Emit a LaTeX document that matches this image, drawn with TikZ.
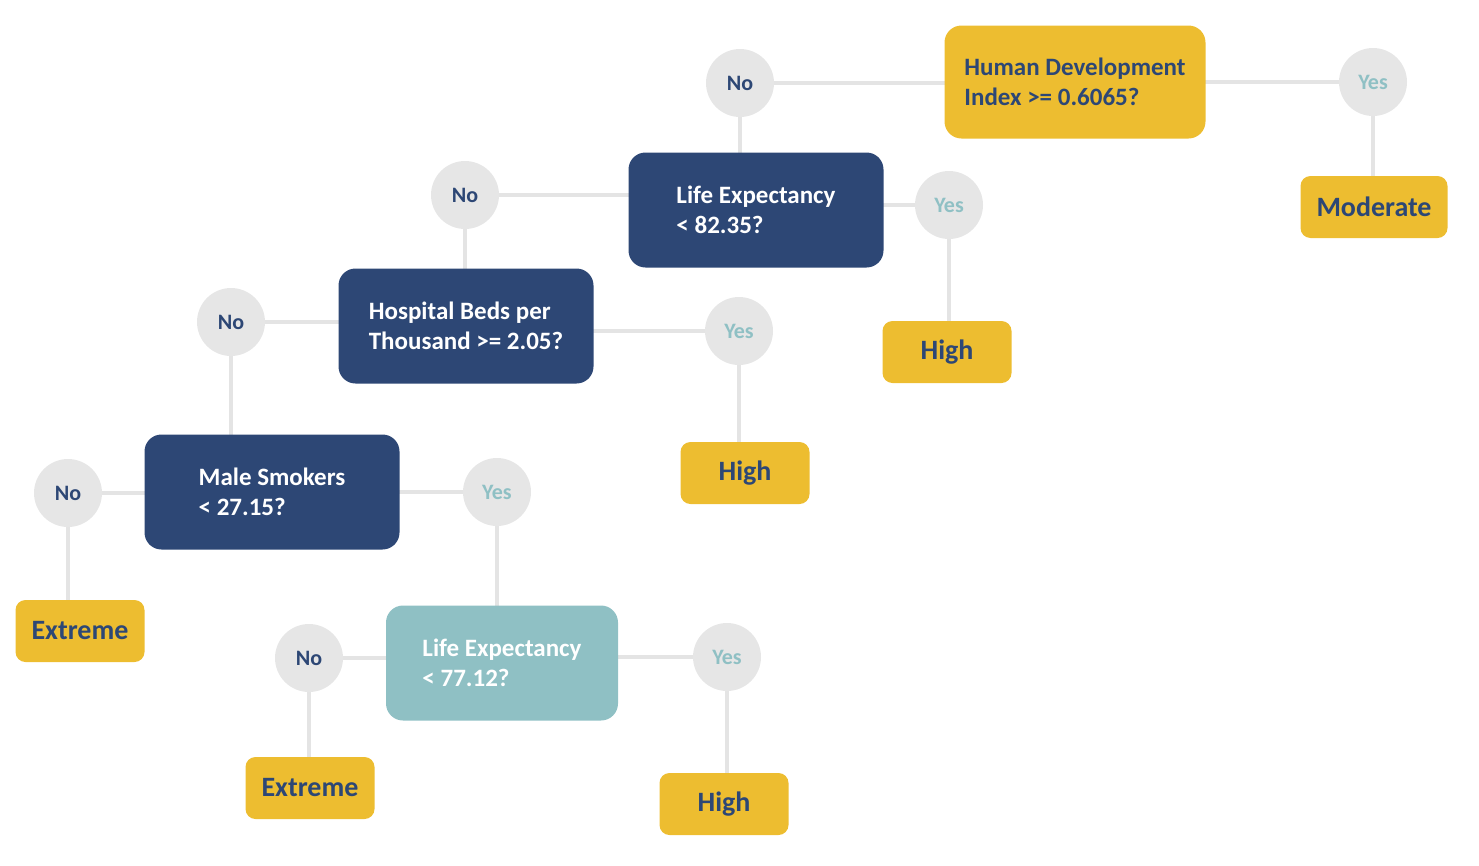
\documentclass[tikz,border=0pt]{standalone}
\usepackage{fontspec}
\setmainfont{Carlito}
\usetikzlibrary{backgrounds}
\definecolor{navy}{HTML}{2D4775}
\definecolor{gold}{HTML}{EDBD30}
\definecolor{teal}{HTML}{8FC0C4}
\definecolor{circ}{HTML}{E6E6E6}
\definecolor{link}{HTML}{E4E4E4}
\tikzset{
  x=1pt, y=1pt,
  qbox/.style={rounded corners=17pt, minimum height=115pt, align=left, inner sep=0pt,
    font=\fontsize{25}{30.5}\selectfont\bfseries},
  navybox/.style={qbox, fill=navy, text=white, minimum width=255pt},
  leaf/.style={fill=gold, text=navy, rounded corners=10pt, minimum width=129pt, minimum height=62pt,
    inner sep=0pt, font=\fontsize{28}{32}\selectfont\bfseries},
  ans/.style={circle, fill=circ, minimum size=68pt, inner sep=0pt,
    font=\fontsize{22}{26}\selectfont\bfseries},
  no/.style={ans, text=navy},
  yes/.style={ans, text=teal},
  conn/.style={draw=link, line width=3.5pt}
}
\begin{document}
\begin{tikzpicture}
\useasboundingbox (0,0) rectangle (1479,-865);
% decision boxes
\node[qbox, fill=gold, text=navy, minimum width=261pt, minimum height=113pt] (hdi) at (1075,-82) {Human Development\\Index >= 0.6065?};
\node[navybox] (le1) at (756,-210) {Life Expectancy\\< 82.35?};
\node[navybox] (hb) at (466,-326) {Hospital Beds per\\Thousand >= 2.05?};
\node[navybox] (ms) at (272,-492) {Male Smokers\\< 27.15?};
\node[qbox, fill=teal, text=white, minimum width=232pt] (le2) at (502,-663) {Life Expectancy\\< 77.12?};
% leaves
\node[leaf, minimum width=147pt] (mod) at (1374,-207) {Moderate};
\node[leaf] (high1) at (947,-352) {High};
\node[leaf] (high2) at (745,-473) {High};
\node[leaf] (ext1) at (80,-631) {Extreme};
\node[leaf] (ext2) at (310,-788) {Extreme};
\node[leaf] (high3) at (724,-804) {High};
% answer circles
\node[no] (n1) at (740,-83) {No};
\node[yes] (y1) at (1373,-82) {Yes};
\node[no] (n2) at (465,-195) {No};
\node[yes] (y2) at (949,-205) {Yes};
\node[no] (n3) at (231,-322) {No};
\node[yes] (y3) at (739,-331) {Yes};
\node[no] (n4) at (68,-493) {No};
\node[yes] (y4) at (497,-492) {Yes};
\node[no] (n5) at (309,-658) {No};
\node[yes] (y5) at (727,-657) {Yes};
% connectors
\begin{scope}[on background layer]
\draw[conn] (n1.center) -- (n1.center -| hdi.center);
\draw[conn] (y1.center) -- (y1.center -| hdi.center);
\draw[conn] (n1.center) -- (n1.center |- le1.center);
\draw[conn] (y1.center) -- (y1.center |- mod.center);
\draw[conn] (n2.center) -- (n2.center -| le1.center);
\draw[conn] (y2.center) -- (y2.center -| le1.center);
\draw[conn] (n2.center) -- (n2.center |- hb.center);
\draw[conn] (y2.center) -- (y2.center |- high1.center);
\draw[conn] (n3.center) -- (n3.center -| hb.center);
\draw[conn] (y3.center) -- (y3.center -| hb.center);
\draw[conn] (n3.center) -- (n3.center |- ms.center);
\draw[conn] (y3.center) -- (y3.center |- high2.center);
\draw[conn] (n4.center) -- (n4.center -| ms.center);
\draw[conn] (y4.center) -- (y4.center -| ms.center);
\draw[conn] (n4.center) -- (n4.center |- ext1.center);
\draw[conn] (y4.center) -- (y4.center |- le2.center);
\draw[conn] (n5.center) -- (n5.center -| le2.center);
\draw[conn] (y5.center) -- (y5.center -| le2.center);
\draw[conn] (n5.center) -- (n5.center |- ext2.center);
\draw[conn] (y5.center) -- (y5.center |- high3.center);
\end{scope}
\end{tikzpicture}
\end{document}
